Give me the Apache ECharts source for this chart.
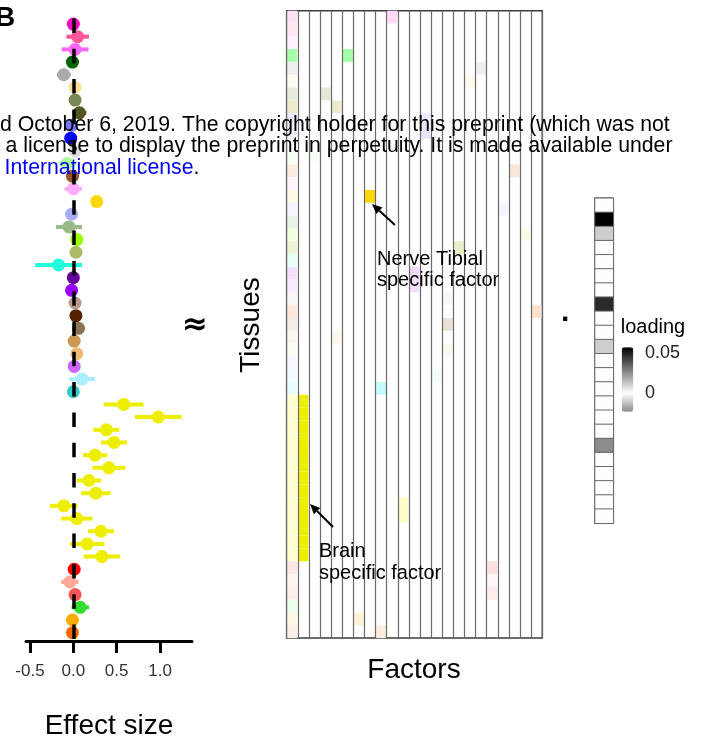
<!DOCTYPE html>
<html>
<head>
<meta charset="utf-8">
<script src="https://cdn.jsdelivr.net/npm/echarts@6/dist/echarts.min.js"></script>
<style>html,body{margin:0;padding:0;background:#fff;}#c{width:705px;height:745px;}</style>
</head>
<body>
<div id="c"></div>
<script>
// ---------------- data ----------------
const tissues = ["Adipose_Subcutaneous","Adipose_Visceral_Omentum","Adrenal_Gland","Artery_Aorta","Artery_Coronary","Artery_Tibial","Brain_Amygdala","Brain_Anterior_cingulate_cortex_BA24","Brain_Caudate_basal_ganglia","Brain_Cerebellar_Hemisphere","Brain_Cerebellum","Brain_Cortex","Brain_Frontal_Cortex_BA9","Brain_Hippocampus","Brain_Hypothalamus","Brain_Nucleus_accumbens_basal_ganglia","Brain_Putamen_basal_ganglia","Brain_Spinal_cord_cervical_c-1","Brain_Substantia_nigra","Breast_Mammary_Tissue","Cells_Cultured_fibroblasts","Cells_EBV-transformed_lymphocytes","Colon_Sigmoid","Colon_Transverse","Esophagus_Gastroesophageal_Junction","Esophagus_Mucosa","Esophagus_Muscularis","Heart_Atrial_Appendage","Heart_Left_Ventricle","Kidney_Cortex","Liver","Lung","Minor_Salivary_Gland","Muscle_Skeletal","Nerve_Tibial","Ovary","Pancreas","Pituitary","Prostate","Skin_Not_Sun_Exposed_Suprapubic","Skin_Sun_Exposed_Lower_leg","Small_Intestine_Terminal_Ileum","Spleen","Stomach","Testis","Thyroid","Uterus","Vagina","Whole_Blood"];
const tissueColors = ["#FF6600","#FFAA00","#33DD33","#FF5555","#FFAA99","#FF0000","#EEEE00","#EEEE00","#EEEE00","#EEEE00","#EEEE00","#EEEE00","#EEEE00","#EEEE00","#EEEE00","#EEEE00","#EEEE00","#EEEE00","#EEEE00","#33CCCC","#AAEEFF","#CC66FF","#EEBB77","#CC9955","#8B7355","#552200","#BB9988","#9900FF","#660099","#22FFDD","#AABB66","#99FF00","#99BB88","#AAAAFF","#FFD700","#FFAAFF","#995522","#AAFF99","#DDDDDD","#0000FF","#7777FF","#555522","#778855","#FFDD99","#AAAAAA","#006600","#FF66FF","#FF5599","#FF00BB"];
const effect = [-0.01,-0.01,0.08,0.02,-0.04,0.01, 0.33,0.16,0.32,0.04,-0.11,0.26,0.18,0.41,0.25,0.47,0.38,0.98,0.58, 0.0,0.10,0.01,0.04,0.01,0.06,0.03,0.02,-0.02,0.0,-0.17,0.03,0.04,-0.05,-0.02,0.27,0.0,-0.01,-0.07,0.02,-0.03,-0.02,0.07,0.02,0.02,-0.11,-0.01,0.02,0.05,0.0];
const effectErr = [0.03,0.03,0.10,0.03,0.10,0.03, 0.21,0.20,0.15,0.18,0.16,0.17,0.14,0.19,0.14,0.15,0.15,0.27,0.23, 0.03,0.15,0.03,0.04,0.03,0.04,0.03,0.03,0.03,0.03,0.27,0.04,0.03,0.15,0.03,0.03,0.10,0.03,0.10,0.03,0.03,0.03,0.08,0.06,0.03,0.08,0.03,0.155,0.13,0.02];
const xTicks = [-0.5, 0.0, 0.5, 1.0];
const factors = Array.from({length:23}, (_, i) => 'Factor ' + (i + 1));
// heatmap cells: [factor index, tissue index, loading strength]
const heatCells = [
  [0,48,0.12],[0,47,0.15],[0,46,0.10],[0,45,0.35],[0,44,0.2],[0,43,0.12],[0,42,0.25],[0,41,0.28],[0,40,0.15],[0,39,0.06],[0,38,0.10],[0,37,0.12],[0,36,0.15],[0,35,0.12],[0,34,0.12],[0,33,0.12],[0,32,0.25],[0,31,0.12],[0,30,0.30],[0,29,0.10],[0,28,0.12],[0,27,0.08],[0,26,0.12],[0,25,0.15],[0,24,0.18],[0,23,0.10],[0,22,0.08],[0,21,0.06],[0,20,0.15],[0,19,0.12],
  [0,18,0.18],[0,17,0.18],[0,16,0.18],[0,15,0.18],[0,14,0.18],[0,13,0.18],[0,12,0.18],[0,11,0.18],[0,10,0.18],[0,9,0.18],[0,8,0.18],[0,7,0.18],[0,6,0.18],
  [0,5,0.10],[0,4,0.12],[0,3,0.10],[0,2,0.10],[0,1,0.10],[0,0,0.10],
  [1,18,1],[1,17,1],[1,16,1],[1,15,1],[1,14,1],[1,13,1],[1,12,1],[1,11,1],[1,10,1],[1,9,1],[1,8,1],[1,7,1],[1,6,1],
  [7,34,1],[9,48,0.15],[5,45,0.35],[17,44,0.2],[16,43,0.15],[3,42,0.28],[4,41,0.28],[12,40,0.15],[12,39,0.10],[2,37,0.12],[20,36,0.20],[19,33,0.12],[21,31,0.10],[15,30,0.40],[11,28,0.15],[11,27,0.12],[14,26,0.10],[14,24,0.30],[14,22,0.12],[22,25,0.20],[4,23,0.10],[13,20,0.15],[8,19,0.30],[10,10,0.20],[10,9,0.20],[18,5,0.12],[18,4,0.10],[18,3,0.12],[6,1,0.15],[8,0,0.12]
];
const loadingValues = [0,0.0575,0.011,0,0,0,0,0.048,0,0,0.011,0,0,0,0,0,0,-0.023,0,0,0,0,0];
const loadMin = -0.023, loadMax = 0.0575;
const legendTicks = [0, 0.05];

// ---------------- helpers ----------------
const FONT = 'Liberation Sans, Arial, Helvetica, sans-serif';
function hexRgb(h){ h=h.replace('#',''); return [parseInt(h.substr(0,2),16),parseInt(h.substr(2,2),16),parseInt(h.substr(4,2),16)]; }
function tint(hex, a){
  let c=hexRgb(hex);
  if (a < 1){
    const m=Math.max(...c), n=Math.min(...c), s=m>0?(m-n)/m:0;
    c=c.map(v=>v*(1+(255/m-1)*s));
  }
  return 'rgb('+c.map(v=>Math.round(255+(v-255)*Math.min(1,a))).join(',')+')';
}
const lowGray=[140,140,140];
function rampColor(v){
  let c;
  if (v < 0){ const t=(v-loadMin)/(0-loadMin); c=lowGray.map(g=>g+(255-g)*t); }
  else { const t=v/loadMax; c=[255,255,255].map(w=>w*(1-t)); }
  return 'rgb('+c.map(Math.round).join(',')+')';
}
const ramp=[]; for(let k=0;k<=80;k++){ ramp.push(rampColor(loadMin+(loadMax-loadMin)*k/80)); }

function arrow(x1,y1,x2,y2){
  const ang=Math.atan2(y2-y1,x2-x1), L=10, W=4.5;
  const bx=x2-L*Math.cos(ang), by=y2-L*Math.sin(ang);
  const px=-Math.sin(ang)*W, py=Math.cos(ang)*W;
  return [
    {type:'line', shape:{x1:x1,y1:y1,x2:bx,y2:by}, style:{stroke:'#000',lineWidth:2}, z:50},
    {type:'polygon', shape:{points:[[x2,y2],[bx+px,by+py],[bx-px,by-py]]}, style:{fill:'#000'}, z:50}
  ];
}

const chart = echarts.init(document.getElementById('c'), null, {renderer:'canvas'});
const lgTop=347.3, lgH=64.4, lgLeft=621.7, lgW=11.6;
const lgY = v => lgTop + lgH*(loadMax - v)/(loadMax - loadMin);
const WM = 21.25;

const option = {
  animation:false,
  backgroundColor:'#fff',
  textStyle:{fontFamily:FONT},
  grid:[
    {left:26, top:17.7, width:166, height:622},
    {left:286.7, top:10.7, width:255.6, height:627.4, show:true, borderColor:'#3c3c3c', borderWidth:1.5, backgroundColor:'rgba(0,0,0,0)'},
    {left:595, top:198.3, width:18.3, height:325, show:true, borderColor:'#333', borderWidth:1.5, backgroundColor:'rgba(0,0,0,0)'}
  ],
  xAxis:[
    {gridIndex:0, type:'value', min:-0.546, max:1.369, offset:2,
     axisLine:{show:true, onZero:false, lineStyle:{color:'#000', width:3}},
     axisTick:{show:true, customValues:xTicks, length:12, lineStyle:{color:'#000', width:3}},
     axisLabel:{show:true, customValues:xTicks, formatter:v=>v.toFixed(1), fontSize:17, color:'#333', margin:22, fontFamily:FONT},
     splitLine:{show:false},
     name:'Effect size', nameLocation:'middle', nameGap:71, nameTextStyle:{fontSize:28, color:'#000', fontFamily:FONT}},
    {gridIndex:1, type:'category', data:factors, boundaryGap:true,
     axisLine:{show:false}, axisTick:{show:false}, axisLabel:{show:false},
     splitLine:{show:true, interval:0, lineStyle:{color:'#6a6a6a', width:1.2}}, z:5},
    {gridIndex:2, type:'category', data:['loading'], show:false}
  ],
  yAxis:[
    {gridIndex:0, type:'category', data:tissues, show:false},
    {gridIndex:1, type:'category', data:tissues, show:false},
    {gridIndex:2, type:'category', data:factors, inverse:true, show:false}
  ],
  visualMap:[{
    type:'continuous', seriesIndex:4, dimension:2, min:loadMin, max:loadMax,
    inRange:{color:ramp}, show:true, calculable:false, hoverLink:false,
    left:lgLeft, top:lgTop, itemWidth:lgW, itemHeight:lgH, padding:0, text:null
  }],
  series:[
    {type:'custom', xAxisIndex:0, yAxisIndex:0, z:2,
     data: effect.map((v,i)=>[v,i,effectErr[i]]),
     encode:{x:0, y:1},
     renderItem:(params, api)=>{
       const x=api.value(0), i=params.dataIndex, e=api.value(2);
       const p1=api.coord([x-e,i]), p2=api.coord([x+e,i]);
       return {type:'line', shape:{x1:p1[0],y1:p1[1],x2:p2[0],y2:p2[1]}, style:{stroke:tissueColors[i], lineWidth:4}};
     }},
    {type:'scatter', xAxisIndex:0, yAxisIndex:0, z:3, symbolSize:13,
     data: effect.map((v,i)=>[v,i]),
     itemStyle:{color:p=>tissueColors[p.dataIndex], opacity:1}},
    {type:'line', xAxisIndex:0, yAxisIndex:0, data:[], z:10,
     markLine:{silent:true, symbol:['none','none'], label:{show:false}, animation:false,
       lineStyle:{color:'#000', width:3.5, type:[14.5,15.8]}, data:[{xAxis:0}]}},
    {type:'custom', xAxisIndex:1, yAxisIndex:1, z:2,
     data: heatCells,
     encode:{x:0, y:1},
     renderItem:(params, api)=>{
       const f=api.value(0), t=api.value(1), a=api.value(2);
       const c=api.coord([f,t]), s=api.size([1,1]);
       return {type:'rect', shape:{x:c[0]-s[0]/2+0.6, y:c[1]-s[1]/2, width:s[0]-1.2, height:s[1]}, style:{fill:tint(tissueColors[t], a)}};
     }},
    {type:'heatmap', xAxisIndex:2, yAxisIndex:2,
     data: loadingValues.map((v,i)=>[0,i,v]),
     itemStyle:{borderColor:'#6a6a6a', borderWidth:1}, emphasis:{disabled:true}}
  ],
  graphic:[
    {type:'text', x:-5, y:4, z:100, style:{text:'B', fontSize:28, fontWeight:'bold', fill:'#000', fontFamily:FONT, verticalAlign:'top'}},
    {type:'text', x:182, y:326, z:100, style:{text:'≈', fontSize:31, fontWeight:'bold', fill:'#000', fontFamily:'DejaVu Sans, '+FONT, verticalAlign:'middle'}},
    {type:'text', x:251, y:325, rotation:Math.PI/2, z:100, style:{text:'Tissues', fontSize:28, fill:'#000', fontFamily:FONT, align:'center', verticalAlign:'middle'}},
    {type:'text', x:414, y:670, z:100, style:{text:'Factors', fontSize:28, fill:'#000', fontFamily:FONT, align:'center', verticalAlign:'middle'}},
    {type:'text', x:561, y:313, z:100, style:{text:'.', fontSize:30, fontWeight:'bold', fill:'#000', fontFamily:FONT, verticalAlign:'middle'}},
    {type:'text', x:377, y:248.5, z:100, style:{text:'Nerve Tibial\nspecific factor', fontSize:20, lineHeight:21, fill:'#000', fontFamily:FONT, verticalAlign:'top'}},
    {type:'text', x:319, y:541, z:100, style:{text:'Brain\nspecific factor', fontSize:20, lineHeight:21.6, fill:'#000', fontFamily:FONT, verticalAlign:'top'}},
    ...arrow(395,225,372,204),
    ...arrow(333,527,310,504),
    {type:'text', x:lgLeft-1, y:327, z:100, style:{text:'loading', fontSize:20, fill:'#000', fontFamily:FONT, verticalAlign:'middle'}},
    ...legendTicks.map(v=>({type:'text', x:645, y:lgY(v), z:100, style:{text:String(v), fontSize:18, fill:'#222', fontFamily:FONT, verticalAlign:'middle'}})),
    {type:'text', x:0, y:125, z:100, style:{text:'d October 6, 2019. The copyright holder for this preprint (which was not', fontSize:WM, fill:'#000', fontFamily:FONT, verticalAlign:'middle'}},
    {type:'text', x:5.5, y:146, z:100, style:{text:'a license to display the preprint in perpetuity. It is made available under', fontSize:WM, fill:'#000', fontFamily:FONT, verticalAlign:'middle'}},
    {type:'text', x:4.5, y:168, z:100, style:{text:'{b|International license}{k|.}', fontSize:WM, fontFamily:FONT, verticalAlign:'middle',
      rich:{b:{fill:'#0000EE', fontSize:WM, fontFamily:FONT}, k:{fill:'#000', fontSize:WM, fontFamily:FONT}}}}
  ]
};
chart.setOption(option);
</script>
</body>
</html>
